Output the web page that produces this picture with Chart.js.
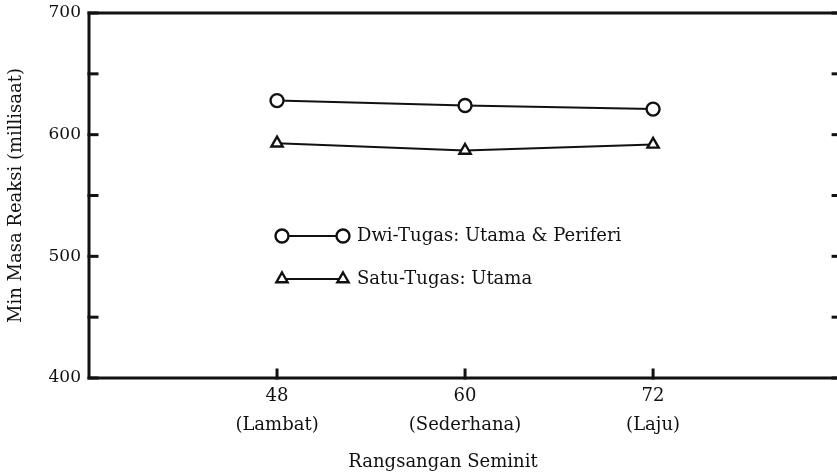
<!DOCTYPE html>
<html>
<head>
<meta charset="utf-8">
<script src="https://cdn.jsdelivr.net/npm/chart.js@4.4.1/dist/chart.umd.min.js"></script>
<style>
  html, body { margin: 0; padding: 0; background: #fff; overflow: hidden; }
  #wrap { width: 850px; height: 474px; }
</style>
</head>
<body>
<div id="wrap"><canvas id="chart" width="850" height="474"></canvas></div>
<script>
  // data
  const rates = [48, 60, 72];
  const rateNames = ['(Lambat)', '(Sederhana)', '(Laju)'];
  const dualTask = [628, 624, 621];
  const singleTask = [593, 587, 592];
  const yLabels = [400, 500, 600, 700];
  const seriesNames = ['Dwi-Tugas: Utama & Periferi', 'Satu-Tugas: Utama'];

  const FONT = 'DejaVu Serif';
  const ink = '#111';

  function pts(vals){ return rates.map((r, i) => ({ x: r, y: vals[i] })); }

  // frame, inward ticks, legend and x title
  const decor = {
    id: 'decor',
    afterDraw(chart) {
      const { ctx, chartArea: a, scales } = chart;
      const xs = scales.x, ys = scales.y;
      ctx.save();
      ctx.strokeStyle = ink;
      ctx.lineWidth = 3;
      ctx.lineCap = 'square';
      ctx.strokeRect(a.left, a.top, a.right - a.left, a.bottom - a.top);
      // y ticks, both sides
      ys.ticks.forEach(t => {
        const y = ys.getPixelForValue(t.value);
        ctx.beginPath(); ctx.moveTo(a.left, y); ctx.lineTo(a.left + 8, y); ctx.stroke();
        ctx.beginPath(); ctx.moveTo(a.right, y); ctx.lineTo(a.right - 8, y); ctx.stroke();
      });
      xs.ticks.forEach(t => {
        const x = xs.getPixelForValue(t.value);
        ctx.beginPath(); ctx.moveTo(x, a.bottom); ctx.lineTo(x, a.bottom - 8); ctx.stroke();
      });

      // legend
      const rows = [
        { y: 236, style: 'circle', name: seriesNames[0] },
        { y: 279, style: 'triangle', name: seriesNames[1] }
      ];
      const x0 = 282, x1 = 343;
      rows.forEach(r => {
        ctx.lineWidth = 2;
        ctx.strokeStyle = ink;
        ctx.beginPath(); ctx.moveTo(x0, r.y); ctx.lineTo(x1, r.y); ctx.stroke();
        ctx.fillStyle = '#fff';
        ctx.lineWidth = 2.4;
        [x0, x1].forEach(px => Chart.helpers.drawPoint(ctx, { pointStyle: r.style, radius: 6.5, rotation: 0, borderWidth: 2.4 }, px, r.y));
        ctx.fillStyle = ink;
        ctx.font = '18px "' + FONT + '"';
        ctx.textBaseline = 'middle';
        ctx.textAlign = 'left';
        ctx.fillText(r.name, 357, r.y);
      });

      // x title
      ctx.font = '18px "' + FONT + '"';
      ctx.textAlign = 'center';
      ctx.textBaseline = 'middle';
      ctx.fillText('Rangsangan Seminit', 443, 462);
      ctx.restore();
    }
  };

  const mkSet = (label, vals, style) => ({
    label,
    data: pts(vals),
    borderColor: ink,
    borderWidth: 2,
    pointStyle: style,
    pointRadius: 6.5,
    pointBorderWidth: 2.4,
    pointBackgroundColor: '#fff',
    pointBorderColor: ink,
    tension: 0
  });

  new Chart(document.getElementById('chart').getContext('2d'), {
    type: 'line',
    data: {
      datasets: [
        mkSet(seriesNames[0], dualTask, 'circle'),
        mkSet(seriesNames[1], singleTask, 'triangle')
      ]
    },
    options: {
      responsive: false,
      animation: false,
      layout: { padding: { left: 0, right: 5, top: 13, bottom: 0 } },
      plugins: { legend: { display: false }, tooltip: { enabled: false } },
      scales: {
        x: {
          type: 'linear',
          min: 36, max: 84,
          grid: { display: false, drawTicks: false },
          border: { display: false },
          afterBuildTicks: s => { s.ticks = rates.map(v => ({ value: v })); },
          afterFit: s => { s.height = 96; s.paddingLeft = 0; s.paddingRight = 0; },
          ticks: {
            color: ink,
            padding: 3,
            font: { family: FONT, size: 18, lineHeight: 1.65 },
            maxRotation: 0,
            callback: v => [String(v), rateNames[rates.indexOf(v)]]
          }
        },
        y: {
          min: 400, max: 700,
          grid: { display: false, drawTicks: false },
          border: { display: false },
          afterFit: s => { s.width = 89; s.paddingTop = 0; s.paddingBottom = 0; },
          ticks: {
            stepSize: 50,
            color: ink,
            padding: 8,
            font: { family: FONT, size: 17 },
            callback: v => yLabels.includes(v) ? String(v) : ''
          },
          title: {
            display: true,
            text: 'Min Masa Reaksi (millisaat)',
            color: ink,
            font: { family: FONT, size: 18 },
            padding: { top: 6, bottom: 0 }
          }
        }
      }
    },
    plugins: [decor]
  });
</script>
</body>
</html>
